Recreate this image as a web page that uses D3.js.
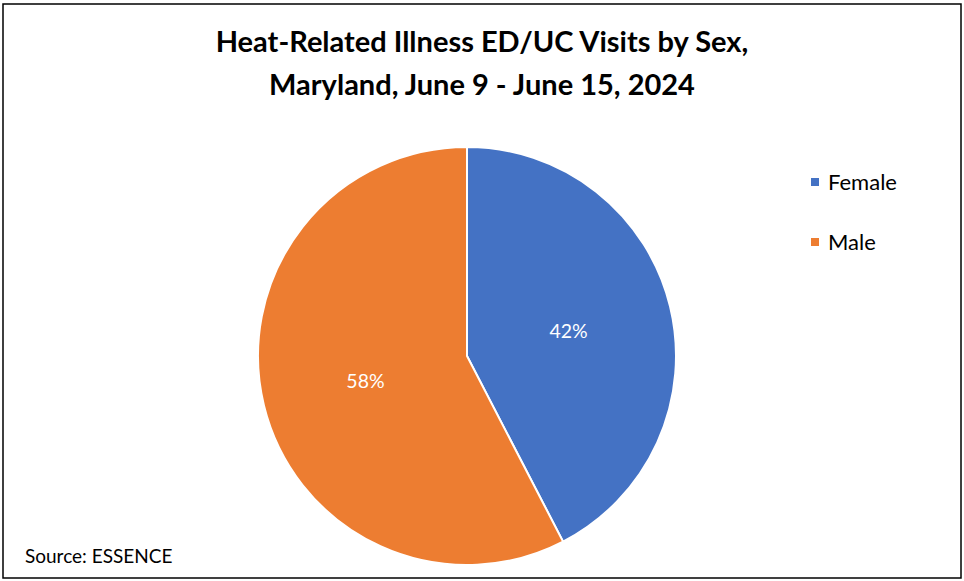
<!DOCTYPE html>
<html>
<head>
<meta charset="utf-8">
<script src="https://cdn.jsdelivr.net/npm/d3@7"></script>
<style>
  body { margin: 0; background: #fff; }
  svg { display: block; font-family: Lato, "Open Sans", sans-serif; }
</style>
</head>
<body>
<svg id="chart" width="964" height="581"></svg>
<script>
// data
const categories = ["Female", "Male"];
const shares = [42.4, 57.6];
const colors = ["#4472C4", "#ED7D31"];
const titleLines = ["Heat-Related Illness ED/UC Visits by Sex,", "Maryland, June 9 - June 15, 2024"];
const sourceNote = "Source: ESSENCE";

const svg = d3.select("#chart");

// frame
svg.append("rect")
    .attr("x", 3).attr("y", 4)
    .attr("width", 958).attr("height", 574)
    .attr("fill", "#fff")
    .attr("stroke", "#000")
    .attr("stroke-width", 1.5);

// title
svg.selectAll("text.title")
    .data(titleLines)
    .join("text")
    .attr("class", "title")
    .attr("x", 482)
    .attr("y", (d, i) => 52 + i * 43)
    .attr("text-anchor", "middle")
    .attr("font-size", 29)
    .attr("font-weight", "bold")
    .attr("fill", "#000")
    .text(d => d);

const cx = 467, cy = 356, r = 209;
const pie = d3.pie().sort(null).value(d => d.v);
const arcs = pie(categories.map((c, i) => ({ c: c, v: shares[i], col: colors[i] })));
const arc = d3.arc().innerRadius(0).outerRadius(r);
const labelArc = d3.arc().innerRadius(r * 0.5).outerRadius(r * 0.5);

const g = svg.append("g").attr("transform", `translate(${cx},${cy})`);
g.selectAll("path")
    .data(arcs)
    .join("path")
    .attr("d", arc)
    .attr("fill", d => d.data.col)
    .attr("stroke", "#fff")
    .attr("stroke-width", 2);

g.selectAll("text.lbl")
    .data(arcs)
    .join("text")
    .attr("class", "lbl")
    .attr("transform", d => `translate(${labelArc.centroid(d)})`)
    .attr("text-anchor", "middle")
    .attr("dy", "0.35em")
    .attr("font-size", 19.5)
    .attr("fill", "#fff")
    .text(d => Math.round(d.data.v) + "%");

// legend
const leg = svg.append("g").attr("transform", "translate(811,182)");
const item = leg.selectAll("g")
    .data(categories)
    .join("g")
    .attr("transform", (d, i) => `translate(0,${i * 60})`);
item.append("rect")
    .attr("x", 0).attr("y", -4)
    .attr("width", 8).attr("height", 8)
    .attr("fill", (d, i) => colors[i]);
item.append("text")
    .attr("x", 17)
    .attr("dy", "0.35em")
    .attr("font-size", 22)
    .attr("fill", "#000")
    .text(d => d);

svg.append("text")
    .attr("x", 25).attr("y", 563)
    .attr("font-size", 19)
    .attr("fill", "#000")
    .text(sourceNote);
</script>
</body>
</html>
